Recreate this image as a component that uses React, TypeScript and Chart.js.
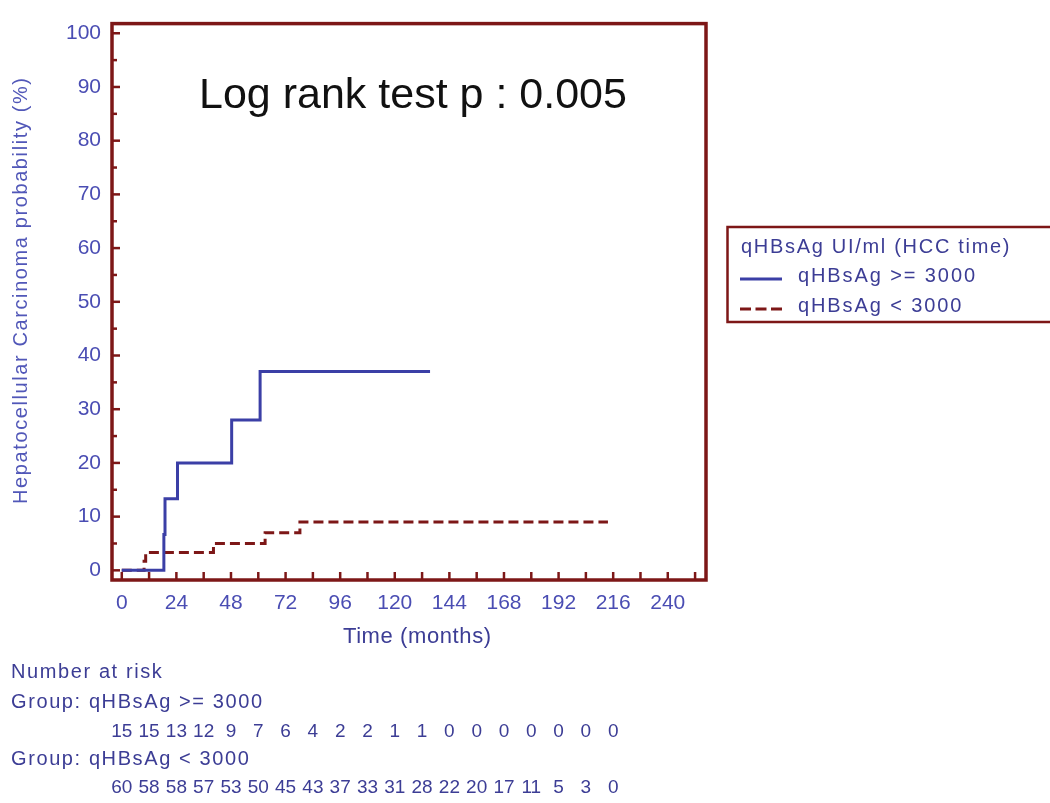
import React, { useEffect, useRef } from 'react';
import { Chart, registerables } from 'chart.js';

Chart.register(...registerables);

// ---- data ----
const highTimes = [0, 18.5, 19, 24.5, 48.3, 60.8, 135.5];
const highProb = [0, 6.67, 13.33, 20, 28, 37, 37];
const lowTimes = [0, 9.8, 10.5, 40.3, 63, 78.3, 213.7];
const lowProb = [0, 1.67, 3.33, 5, 7, 9, 9];

const riskTimes = [0, 12, 24, 36, 48, 60, 72, 84, 96, 108, 120, 132, 144, 156, 168, 180, 192, 204, 216];
const riskHigh = [15, 15, 13, 12, 9, 7, 6, 4, 2, 2, 1, 1, 0, 0, 0, 0, 0, 0, 0];
const riskLow = [60, 58, 58, 57, 53, 50, 45, 43, 37, 33, 31, 28, 22, 20, 17, 11, 5, 3, 0];

const seriesNames = ['qHBsAg >= 3000', 'qHBsAg < 3000'];
const legendTitle = 'qHBsAg UI/ml (HCC time)';
const annotation = 'Log rank test p : 0.005';
const yTitle = 'Hepatocellular Carcinoma probability (%)';
const xTitle = 'Time (months)';
const riskTitle = 'Number at risk';
const groupLabels = ['Group: qHBsAg >= 3000', 'Group: qHBsAg < 3000'];

const RED = '#7d1717';
const BLUE = '#3b3fa6';
const TICK_BLUE = '#4a4db3';
const TEXT_BLUE = '#3c3d95';
const FONT = '"Liberation Sans", Arial, Helvetica, sans-serif';

function drawText(ctx: CanvasRenderingContext2D, s: string, x: number, y: number, size: number, color: string, spacing: number, align: CanvasTextAlign = 'left') {
  ctx.save();
  ctx.font = `${size}px ${FONT}`;
  ctx.fillStyle = color;
  (ctx as any).letterSpacing = `${spacing}px`;
  ctx.textBaseline = 'alphabetic';
  let xx = x;
  if (align === 'center') {
    const w = ctx.measureText(s).width - spacing;
    xx = x - w / 2;
  }
  ctx.textAlign = 'left';
  ctx.fillText(s, xx, y);
  ctx.restore();
}

const overlayPlugin = {
  id: 'overlay',
  afterDraw(chart: any) {
    const { ctx, chartArea: a } = chart;
    const xs = chart.scales.x;
    const ys = chart.scales.y;
    ctx.save();
    ctx.strokeStyle = RED;
    ctx.lineWidth = 2.5;
    ctx.lineCap = 'butt';
    ys.ticks.forEach((t: any) => {
      const py = ys.getPixelForValue(t.value);
      const len = t.value % 10 === 0 ? 8 : 5;
      ctx.beginPath();
      ctx.moveTo(a.left, py);
      ctx.lineTo(a.left + len, py);
      ctx.stroke();
    });
    xs.ticks.forEach((t: any) => {
      const px = xs.getPixelForValue(t.value);
      ctx.beginPath();
      ctx.moveTo(px, a.bottom);
      ctx.lineTo(px, a.bottom - 8);
      ctx.stroke();
    });
    ctx.lineWidth = 3.5;
    ctx.strokeRect(a.left, a.top, a.right - a.left, a.bottom - a.top);

    // annotation
    drawText(ctx, annotation, 199, 108, 43, '#111111', 0);

    // y title
    ctx.save();
    ctx.translate(27, 291);
    ctx.rotate(-Math.PI / 2);
    drawText(ctx, yTitle, 0, 0, 20, '#5157b8', 1.6, 'center');
    ctx.restore();

    // x title
    drawText(ctx, xTitle, 417, 643, 22, TEXT_BLUE, 0.6, 'center');

    // legend box
    ctx.lineWidth = 2.5;
    ctx.strokeStyle = RED;
    ctx.strokeRect(727.5, 227, 340, 95);
    drawText(ctx, legendTitle, 741, 253, 20, TEXT_BLUE, 1.7);
    ctx.lineWidth = 3;
    ctx.strokeStyle = BLUE;
    ctx.beginPath();
    ctx.moveTo(740, 279);
    ctx.lineTo(782, 279);
    ctx.stroke();
    ctx.strokeStyle = RED;
    ctx.setLineDash([11, 4.5]);
    ctx.beginPath();
    ctx.moveTo(740, 309);
    ctx.lineTo(782, 309);
    ctx.stroke();
    ctx.setLineDash([]);
    drawText(ctx, seriesNames[0], 798, 282, 20, TEXT_BLUE, 1.9);
    drawText(ctx, seriesNames[1], 798, 312, 20, TEXT_BLUE, 1.9);

    // number at risk
    drawText(ctx, riskTitle, 11, 678, 20, TEXT_BLUE, 1.6);
    drawText(ctx, groupLabels[0], 11, 708, 20, TEXT_BLUE, 1.6);
    drawText(ctx, groupLabels[1], 11, 765, 20, TEXT_BLUE, 1.6);
    riskTimes.forEach((t, i) => {
      const px = xs.getPixelForValue(t);
      drawText(ctx, String(riskHigh[i]), px, 737, 19, TEXT_BLUE, 0, 'center');
      drawText(ctx, String(riskLow[i]), px, 793, 19, TEXT_BLUE, 0, 'center');
    });
    ctx.restore();
  },
};

export default function App() {
  const ref = useRef<HTMLCanvasElement | null>(null);
  useEffect(() => {
    if (!ref.current) return;
    const chart = new Chart(ref.current, {
      type: 'line',
      data: {
        datasets: [
          {
            label: seriesNames[0],
            data: highTimes.map((t, i) => ({ x: t, y: highProb[i] })),
            stepped: true,
            borderColor: BLUE,
            borderWidth: 3,
            pointRadius: 0,
            fill: false,
          },
          {
            label: seriesNames[1],
            data: lowTimes.map((t, i) => ({ x: t, y: lowProb[i] })),
            stepped: true,
            borderColor: RED,
            borderWidth: 3,
            borderDash: [10, 5],
            pointRadius: 0,
            fill: false,
          },
        ],
      },
      options: {
        responsive: false,
        animation: false,
        layout: { padding: { left: 0, top: 12, right: 344, bottom: 0 } },
        plugins: { legend: { display: false }, tooltip: { enabled: false } },
        scales: {
          x: {
            type: 'linear',
            min: -4.3,
            max: 256.8,
            afterFit: (s: any) => { s.height = 223; },
            grid: { display: false, drawTicks: false },
            border: { display: false },
            ticks: {
              stepSize: 12,
              includeBounds: false,
              autoSkip: false,
              maxRotation: 0,
              padding: 11,
              color: TICK_BLUE,
              font: { family: FONT, size: 21 },
              callback: (v: any) => (Number(v) % 24 === 0 ? String(v) : ''),
            },
          },
          y: {
            type: 'linear',
            min: -1.8,
            max: 101.8,
            afterFit: (s: any) => { s.width = 112; },
            grid: { display: false, drawTicks: false },
            border: { display: false },
            ticks: {
              stepSize: 5,
              includeBounds: false,
              autoSkip: false,
              padding: 11,
              color: TICK_BLUE,
              font: { family: FONT, size: 21 },
              callback: (v: any) => (Number(v) % 10 === 0 ? String(v) : ''),
            },
          },
        },
      },
      plugins: [overlayPlugin],
    });
    return () => chart.destroy();
  }, []);
  return (
    <div style={{ position: 'absolute', left: 0, top: 0, width: 1050, height: 803, background: '#fff' }}>
      <canvas ref={ref} width={1050} height={803} style={{ width: 1050, height: 803, display: 'block' }} />
    </div>
  );
}
